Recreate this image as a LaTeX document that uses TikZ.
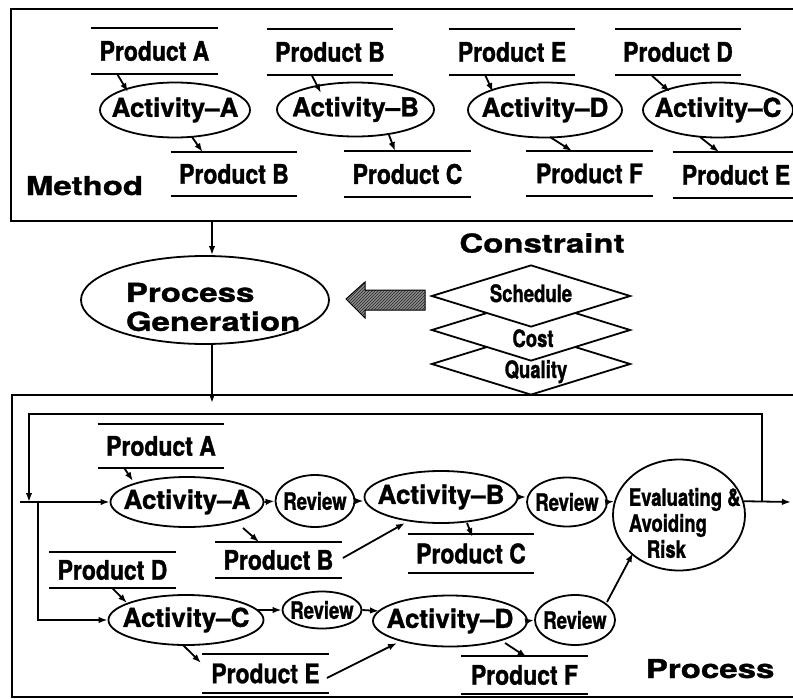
\documentclass[tikz,border=0pt]{standalone}
\usepackage{fontspec}
\setmainfont{TeX Gyre Heros}
\newfontfamily\wideff[FakeStretch=1.27,FakeBold=1.2]{TeX Gyre Heros}
\newfontfamily\narrowff[FakeStretch=0.85,FakeBold=1.2]{TeX Gyre Heros}
\newfontfamily\slimff[FakeStretch=0.77,FakeBold=1.2]{TeX Gyre Heros}
\newfontfamily\actff[FakeBold=1.2]{TeX Gyre Heros}
\newcommand\bigtxt{\wideff\bfseries\fontsize{26}{29}\selectfont}
\newcommand\prodtxt{\narrowff\bfseries\fontsize{27}{29}\selectfont}
\newcommand\acttxt{\actff\bfseries\fontsize{26}{29}\selectfont}
\newcommand\smtxt{\slimff\bfseries\fontsize{24}{26}\selectfont}
\usetikzlibrary{arrows.meta,shapes.geometric,calc,patterns}
\begin{document}
\begin{tikzpicture}[x=1pt,y=-1pt,line width=1.8pt,
  arr/.style={-{Latex[length=9pt,width=6.5pt]}},
  frame/.style={draw,line width=2.2pt,inner sep=0pt,anchor=north west},
  prod/.style={inner sep=0pt,minimum width=125pt,minimum height=#1,font=\prodtxt,
    append after command={(\tikzlastnode.north west) edge (\tikzlastnode.north east)
      (\tikzlastnode.south west) edge (\tikzlastnode.south east)}},
  prod/.default=44pt,
  act/.style={ellipse,draw,inner sep=0pt,minimum width=154pt,minimum height=54pt,
    label={[font=\acttxt]center:{#1}}},
  rev/.style={ellipse,draw,inner sep=0pt,minimum width=80pt,minimum height=50pt,
    label={[font=\smtxt]center:{#1}}},
  dia/.style={diamond,draw,fill=white,inner sep=0pt,minimum width=199pt,minimum height=62pt},
  big/.style={font=\bigtxt,inner sep=0pt},
  small/.style={font=\smtxt,inner sep=0pt}]
\useasboundingbox (0,0) rectangle (793,699);
\fill[white] (0,0) rectangle (793,699);
\clip (0,0) rectangle (793,699);

% ---------------- Method box ----------------
\node[frame,minimum width=800pt,minimum height=212pt] (topbox) at (10,8) {};
\node[big,anchor=base west] (method) at (25,195) {Method};

\node[prod] (pAt) at (154.5,51) {Product A};
\node[prod] (pBt) at (330,52) {Product B};
\node[prod] (pEt) at (512,52) {Product E};
\node[prod] (pDt) at (678,52) {Product D};

\node[act=Activity–A,minimum width=150pt,minimum height=55pt] (aA) at (175,110) {};
\node[act=Activity–B,minimum width=157pt] (aB) at (355.5,109.5) {};
\node[act=Activity–D,minimum height=55pt] (aD) at (545,110) {};
\node[act=Activity–C,minimum width=150pt,minimum height=55pt] (aC) at (718,110) {};

\node[prod=42pt] (pBl) at (234,174) {Product B};
\node[prod] (pCl) at (407.5,174) {Product C};
\node[prod=43pt] (pFl) at (589.5,173.5) {Product F};
\node[prod] (pEl) at (736,175) {Product E};

\draw[arr] ($(pAt.south west)+(26,0)$) -- ($(aA.center)+(-47,-18)$);
\draw[arr] ($(aA.center)+(17,27)$) -- ($(pBl.north west)+(32,0)$);
\draw[arr] ($(pBt.south west)+(45,0)$) -- ($(aB.center)+(-34.5,-16.5)$);
\draw[arr] ($(aB.center)+(33.5,25.5)$) -- ($(pCl.north west)+(51,0)$);
\draw[arr] ($(pEt.south west)+(36.5,0)$) -- ($(aD.center)+(-52,-18)$);
\draw[arr] ($(aD.center)+(5,27)$) -- ($(pFl.north west)+(46,0)$);
\draw[arr] ($(pDt.south west)+(36.5,0)$) -- ($(aC.center)+(-48,-18)$);
\draw[arr] ($(aC.center)+(-18,27)$) -- ($(pEl.north west)+(46.5,0)$);

% ---------------- Generation ----------------
\node[ellipse,draw,inner sep=0pt,minimum width=248pt,minimum height=88pt] (pg) at (205,300) {};
\node[big,anchor=north west,align=left] (pgt) at (125,282) {Process\\Generation};

\node[big] (constr) at (542,243) {Constraint};
\node[dia] (qual) at (531,364) {};
\node[dia] (cost) at (531,330) {};
\node[dia] (sched) at (531,296) {};
\node[small,anchor=base] (tsched) at (531,302) {Schedule};
\node[small,anchor=base] (tcost) at (533,347) {Cost};
\node[small,anchor=base] (tqual) at (536,378) {Quality};

\draw[line width=1pt,preaction={fill=black!45},pattern=north east lines,pattern color=black!85]
  (346,299) -- (365,282) -- (365,290) -- (425,290) -- (425,310) -- (365,310) -- (365,318) -- cycle;

\coordinate (gx) at (212,0);

% ---------------- Process box ----------------
\node[frame,minimum width=800pt,minimum height=302pt] (botbox) at (11,394) {};
\draw[arr] (gx |- topbox.south) -- (gx |- pg.north);
\draw[arr] (gx |- pg.south) -- ($(gx |- botbox.north)+(0,9)$);

\node[big,anchor=base west] (process) at (645,678) {Process};

\node[prod=42pt] (pAb) at (161,446) {Product A};
\node[prod=34pt] (pBb) at (278.5,560) {Product B};
\node[prod=37pt] (pCb) at (471,553.5) {Product C};
\node[prod=34pt] (pDb) at (112.5,570) {Product D};
\node[prod=37pt] (pEb) at (265.5,673.5) {Product E};
\node[prod=36pt] (pFb) at (524.5,675) {Product F};

\node[act=Activity–A,minimum width=153pt,minimum height=50pt] (aAb) at (187,502) {};
\node[act=Activity–B,minimum width=153pt,minimum height=52pt] (aBb) at (441,497) {};
\node[act=Activity–C,minimum width=155pt,minimum height=50pt] (aCb) at (186,620) {};
\node[act=Activity–D,minimum width=154pt,minimum height=51pt] (aDb) at (450,621) {};

\node[rev=Review,minimum width=79pt,minimum height=52pt] (r1) at (315,501) {};
\node[rev=Review,minimum height=49pt] (r2) at (567,502) {};
\node[rev=Review,minimum width=79pt,minimum height=37pt] (r3) at (322,610) {};
\node[rev=Review] (r4) at (575,620) {};

\node[ellipse,draw,inner sep=0pt,minimum width=132pt,minimum height=111pt] (ev) at (679,515) {};
\node[small,anchor=north west,align=left] (evt) at (628,487) {Evaluating \&\\Avoiding\\\hspace{18pt}Risk};

\coordinate (start) at (20,502);
\coordinate (br) at (38,502);
\coordinate (lpL) at (29,414);
\coordinate (lpR) at (762,502);
\coordinate (out) at (791,502);

\draw[arr] (start) -- (aAb.west);
\draw[arr] (br) |- (aCb.west);
\draw[arr] (lpR) |- (lpL) -- (lpL |- start);
\draw[arr] (ev.12) -- (out);

\draw[arr] (aAb.east) -- (r1.west);
\draw[arr] (r1.east) -- (r1.east -| aBb.west);
\draw[arr] (aBb.east) -- (aBb.east -| r2.west);
\draw[arr] (r2.east) -- (ev.168);
\draw[arr] ($(aCb.center)+(71,-10)$) -- (r3.west);
\draw[arr] (r3.east) -- ($(aDb.center)+(-71,-10)$);
\draw[arr] (aDb.east) -- (r4.west);
\draw[arr] ($(r4.center)+(32,-18)$) -- ($(ev.center)+(-46,38)$);

\draw[arr] ($(pAb.south west)+(26.5,0)$) -- ($(aAb.center)+(-54,-21)$);
\draw[arr] ($(aAb.center)+(56,26)$) -- ($(pBb.north west)+(44,0)$);
\draw[arr] ($(pBb.east)+(1,-2)$) -- ($(aBb.center)+(-36,26)$);
\draw[arr] ($(aBb.center)+(26,26)$) -- ($(pCb.north west)+(65,3)$);
\draw[arr] ($(pDb.south west)+(63,0)$) -- ($(aCb.center)+(-59,-17)$);
\draw[arr] ($(aCb.center)+(-3,25)$) -- ($(pEb.west)+(-1,-10.5)$);
\draw[arr] ($(pEb.east)+(-2,4.5)$) -- ($(aDb.center)+(-53,22)$);
\draw[arr] ($(aDb.center)+(55,22)$) -- ($(pFb.north west)+(65.5,1)$);
\end{tikzpicture}
\end{document}
